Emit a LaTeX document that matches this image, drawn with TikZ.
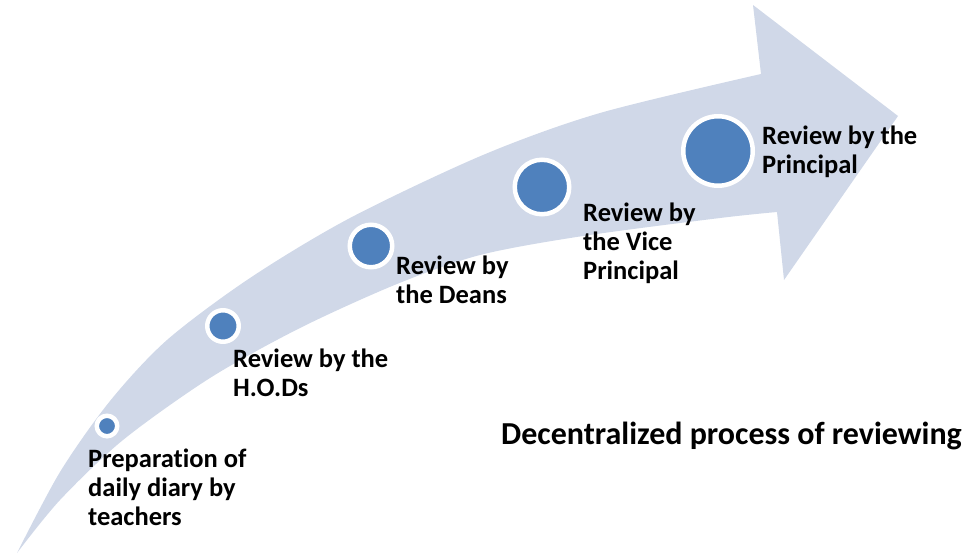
\documentclass[tikz,border=0pt]{standalone}
\usepackage{fontspec}
\setmainfont{Carlito}[Ligatures=NoCommon]
\usetikzlibrary{positioning}
\definecolor{shaftblue}{HTML}{D0D8E8}
\definecolor{dotblue}{HTML}{4F81BD}

\begin{document}
\begin{tikzpicture}[x=1pt, y=-1pt,
    stagedot/.style={circle, fill=dotblue, draw=white, line width=4.5pt, inner sep=0pt},
    stagetext/.style={anchor=base west, align=left, inner sep=0pt,
      font=\bfseries\fontsize{26.5}{29}\selectfont}]
  % Fix the page to the size of the reference
  \useasboundingbox (0,0) rectangle (968,554);

  % Draw the curved arrow
  \fill[shaftblue] plot[smooth] coordinates {(17,553) (60,472) (110,401) (167,340)
      (250,278) (350,218) (483,155) (600,113) (761,74)}
    -- (753,5) -- (898,116) -- (784,280) -- (777,212)
    -- plot[smooth] coordinates {(777,212) (720,218) (583,236) (480,255) (397,284)
      (300,328) (210,378) (123,440) (60,500) (17,553)} -- cycle;

  % Dots along the arrow, growing in size
  \node[stagedot, minimum size=20.5pt] (prep) at (107,426) {};
  \node[stagedot, minimum size=31.5pt] (hod) at (223,326) {};
  \node[stagedot, minimum size=42.5pt] (dean) at (371,246) {};
  \node[stagedot, minimum size=54.5pt] (vice) at (542,187) {};
  \node[stagedot, minimum size=69.5pt] (prin) at (718,151) {};

  % Labels of the stages (placed at the baseline of their last line)
  \node[stagetext] (lprep) at (88,525) {Preparation of\\daily diary by\\teachers};
  \node[stagetext] (lhod) at (233,396) {Review by the\\H.O.Ds};
  \node[stagetext] (ldean) at (396,303) {Review by\\the Deans};
  \node[stagetext] (lvice) at (583,279) {Review by\\the Vice\\Principal};
  \node[stagetext] (lprin) at (762,173) {Review by the\\Principal};

  % Title
  \node[stagetext, font=\bfseries\fontsize{32}{36}\selectfont] (title) at (501,444)
    {Decentralized process of reviewing};

\end{tikzpicture}
\end{document}
